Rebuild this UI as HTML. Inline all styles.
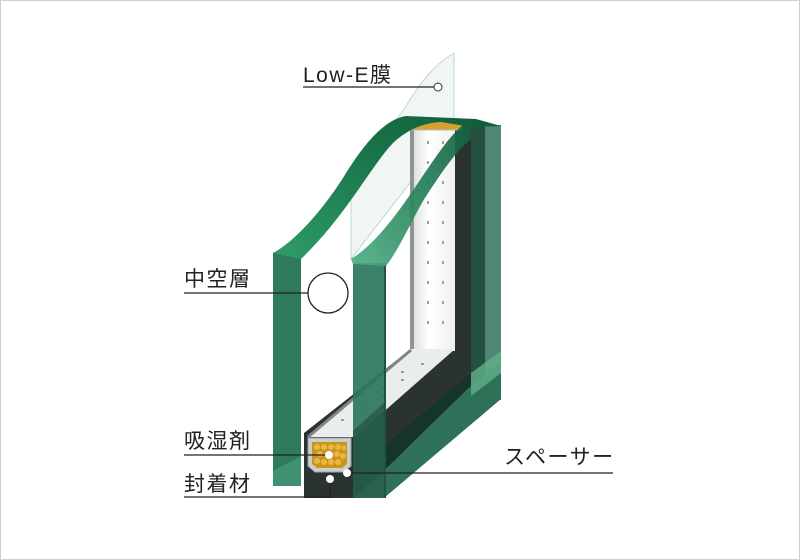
<!DOCTYPE html>
<html><head><meta charset="utf-8"><style>
body{margin:0;background:#fff}
.w{position:relative;width:798px;height:558px;border:1px solid #cfcfcf;background:#fff;overflow:hidden}
svg{position:absolute;left:0;top:0}
</style></head><body><div class="w">
<svg width="800" height="560" viewBox="0 0 800 560">
<defs>
<linearGradient id="rib" x1="0" y1="1" x2="1" y2="0">
<stop offset="0" stop-color="#2f9c6a"/><stop offset="0.5" stop-color="#1d7a4e"/><stop offset="1" stop-color="#0f5a38"/></linearGradient>
<linearGradient id="rib2" x1="0" y1="1" x2="1" y2="0">
<stop offset="0" stop-color="#4fae84"/><stop offset="0.6" stop-color="#237e56"/><stop offset="1" stop-color="#15603f"/></linearGradient>
<linearGradient id="wall" x1="0" y1="0" x2="1" y2="0">
<stop offset="0" stop-color="#d8dcdc"/><stop offset="0.4" stop-color="#ffffff"/><stop offset="1" stop-color="#eef0f0"/></linearGradient>
</defs>
<path d="M350,258 L350,170 C370,150 392,125 405,105 C420,80 435,62 453,52 L453,125 Z" fill="#f1f6f5" stroke="#b9d9cf" stroke-width="1"/>
<rect x="468" y="122" width="16" height="280" fill="#24503f"/>
<rect x="484" y="124" width="16" height="275" fill="#4f8676"/>
<polygon points="303,432 410,348 452,348 452,124 470,124 470,385 353,497 303,497" fill="#2b3331"/>
<rect x="410" y="124" width="44" height="226" fill="url(#wall)"/>
<rect x="409" y="124" width="4" height="228" fill="#8e9593"/>
<polygon points="410,348 454,348 354,436 307,436" fill="#e9eded"/>
<line x1="410" y1="349" x2="307" y2="436" stroke="#7f8684" stroke-width="3"/>
<g fill="#9aa3a1">
<rect x="426" y="140" width="2" height="3"/><rect x="426" y="160" width="2" height="3"/><rect x="426" y="180" width="2" height="3"/><rect x="426" y="200" width="2" height="3"/><rect x="426" y="220" width="2" height="3"/><rect x="426" y="240" width="2" height="3"/><rect x="426" y="260" width="2" height="3"/><rect x="426" y="280" width="2" height="3"/><rect x="426" y="300" width="2" height="3"/><rect x="426" y="320" width="2" height="3"/>
<rect x="441" y="140" width="2" height="3"/><rect x="441" y="160" width="2" height="3"/><rect x="441" y="180" width="2" height="3"/><rect x="441" y="200" width="2" height="3"/><rect x="441" y="220" width="2" height="3"/><rect x="441" y="240" width="2" height="3"/><rect x="441" y="260" width="2" height="3"/><rect x="441" y="280" width="2" height="3"/><rect x="441" y="300" width="2" height="3"/><rect x="441" y="320" width="2" height="3"/>
<rect x="400" y="370" width="3" height="2"/><rect x="380" y="386" width="3" height="2"/><rect x="360" y="402" width="3" height="2"/><rect x="340" y="418" width="3" height="2"/>
<rect x="420" y="362" width="3" height="2"/><rect x="400" y="378" width="3" height="2"/><rect x="380" y="394" width="3" height="2"/><rect x="360" y="410" width="3" height="2"/>
</g>
<polygon points="416,119 466,119 460,129 411,129" fill="#d3a22e" stroke="#b9bfbd" stroke-width="1"/>
<polygon points="383,445 470,372 470,385 383,470" fill="#15352a"/>
<polygon points="383,470 470,385 500,360 500,398 383,497" fill="#2f7058"/>
<polygon points="470,372 500,350 500,372 470,395" fill="#5fb08a" opacity="0.8"/>
<path d="M307,437 L350,437 L350,465 L343,471 L314,471 L307,465 Z" fill="#c9cfcd" stroke="#9ea5a3" stroke-width="1"/>
<path d="M311,441 L346,441 L346,463 L341,467 L316,467 L311,463 Z" fill="#c8941e"/>
<g fill="#e7b740"><circle cx="316" cy="446" r="3"/><circle cx="323" cy="446" r="3"/><circle cx="330" cy="446" r="3"/><circle cx="337" cy="446" r="3"/><circle cx="343" cy="447" r="2.5"/><circle cx="319" cy="453" r="3"/><circle cx="336" cy="453" r="3"/><circle cx="342" cy="455" r="3"/><circle cx="316" cy="460" r="3"/><circle cx="323" cy="461" r="3"/><circle cx="330" cy="461" r="3"/><circle cx="337" cy="461" r="3"/></g>
<rect x="352" y="262" width="33" height="235" fill="#2d7560" opacity="0.92"/>
<polygon points="352,430 385,400 385,497 352,497" fill="#1f4a3c" opacity="0.6"/>
<rect x="383" y="262" width="2" height="235" fill="#1d5444"/>
<path d="M350,258 C372,245 395,215 415,185 C432,160 448,135 462,124 L470,124 L470,138 C455,150 440,172 422,200 C408,225 398,248 385,265 L352,263 Z" fill="url(#rib2)" opacity="0.92"/>
<rect x="272" y="252" width="28" height="233" fill="#2e7a5c"/>
<polygon points="272,470 300,455 300,485 272,485" fill="#3f9270"/>
<path d="M272,252 C295,240 325,205 345,172 C365,140 385,118 405,115 L475,118 L500,125 L470,126 L440,121 C420,122 405,130 392,142 C370,165 345,215 300,258 Z" fill="url(#rib)"/>
<g stroke="#222" stroke-width="1.3" fill="none">
<line x1="302" y1="86" x2="433" y2="86"/>
<line x1="183" y1="292" x2="307" y2="292"/>
<line x1="183" y1="454" x2="325" y2="454"/>
<polyline points="183,496 329,496 329,482"/>
<line x1="350" y1="472" x2="612" y2="472"/>
</g>
<circle cx="437" cy="86" r="4" fill="#fff" stroke="#333" stroke-width="1"/>
<circle cx="327" cy="292" r="20" fill="none" stroke="#222" stroke-width="1.3"/>
<circle cx="328" cy="454" r="4" fill="#fff"/>
<circle cx="329" cy="478" r="4" fill="#fff"/>
<circle cx="346" cy="472" r="4" fill="#fff"/>
<g font-family="'Liberation Sans','Noto Sans CJK JP',sans-serif" font-size="21" fill="#222" letter-spacing="1.5">
<text x="302" y="81">Low-E膜</text>
<text x="183" y="285">中空層</text>
<text x="183" y="447">吸湿剤</text>
<text x="183" y="490">封着材</text>
<text x="503" y="463">スペーサー</text>
</g>
</svg></div></body></html>
